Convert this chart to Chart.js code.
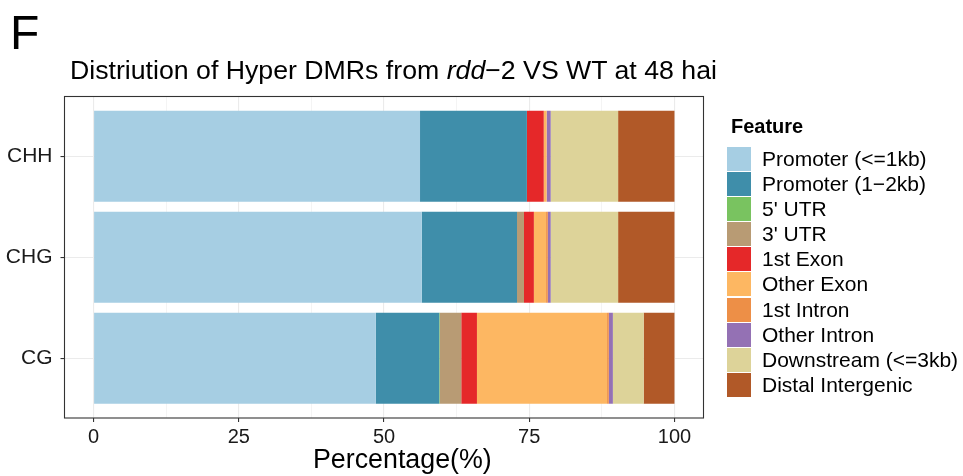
<!DOCTYPE html>
<html>
<head>
<meta charset="utf-8">
<script src="https://cdn.jsdelivr.net/npm/chart.js@4"></script>
<style>
  html, body { margin: 0; padding: 0; background: #fff; }
  #wrap { position: relative; width: 963px; height: 476px; font-family: "Liberation Sans", Arial, sans-serif; color: #000; }
  #chart { position: absolute; left: 0; top: 0; }
  #panel-tag { position: absolute; left: 10px; top: 6px; font-size: 48px; line-height: 54px; }
  #title { position: absolute; left: 70px; top: 55px; font-size: 26.7px; line-height: 30px; white-space: nowrap; }
  #xtitle { position: absolute; left: 313px; top: 443.5px; font-size: 26.8px; line-height: 30px; white-space: nowrap; }
  #legend { position: absolute; left: 727px; top: 114px; }
  #legend .lt { font-weight: bold; font-size: 20px; line-height: 24px; margin-left: 4px; margin-bottom: 9px; }
  #legend .row { position: relative; height: 25.1px; }
  #legend .key { position: absolute; left: 0; top: 0; width: 24px; height: 24px; }
  #legend .lab { position: absolute; left: 35px; top: 0; font-size: 21px; line-height: 24px; white-space: nowrap; }
</style>
</head>
<body>
<div id="wrap">
  <canvas id="chart" width="963" height="476"></canvas>
  <div id="panel-tag">F</div>
  <div id="title">Distriution of Hyper DMRs from <i>rdd</i>−2 VS WT at 48 hai</div>
  <div id="xtitle">Percentage(%)</div>
  <div id="legend"></div>
</div>
<script>
// Context types, top to bottom
const categories = ['CHH', 'CHG', 'CG'];

// Genomic feature classes, in stacking order
const features = [
  'Promoter (<=1kb)', 'Promoter (1−2kb)', "5' UTR", "3' UTR", '1st Exon',
  'Other Exon', '1st Intron', 'Other Intron', 'Downstream (<=3kb)', 'Distal Intergenic'
];
const featureColors = [
  '#A6CEE3', '#3F8EAA', '#79C360', '#B89B74', '#E52829',
  '#FDB762', '#ED8F47', '#9471B4', '#DDD399', '#B15928'
];

// Percentage of DMRs in each feature, per context
const pctCHH = [56.2, 18.4, 0.0, 0.0, 2.9, 0.5, 0.0, 0.7, 11.6, 9.7];
const pctCHG = [56.5, 16.4, 0.0, 1.2, 1.7, 2.1, 0.3, 0.5, 11.6, 9.7];
const pctCG  = [48.6, 10.9, 0.1, 3.7, 2.7, 22.4, 0.3, 0.7, 5.3, 5.3];
const contextValues = [pctCHH, pctCHG, pctCG];

// Axis ticks
const xMajorTicks = [0, 25, 50, 75, 100];
const xMinorTicks = [12.5, 37.5, 62.5, 87.5];

const FONT = '"Liberation Sans", Arial, sans-serif';

const datasets = features.map((name, i) => ({
  label: name,
  backgroundColor: featureColors[i],
  borderWidth: 0,
  data: categories.map((c, j) => ({ x: contextValues[j][i], y: j + 1 }))
}));

// Panel frame drawn around the plotting area
const panelBorder = {
  id: 'panelBorder',
  afterDraw(chart) {
    const { ctx, chartArea: a } = chart;
    ctx.save();
    ctx.strokeStyle = '#333333';
    ctx.lineWidth = 1.1;
    ctx.strokeRect(a.left, a.top, a.right - a.left, a.bottom - a.top);
    ctx.restore();
  }
};

new Chart(document.getElementById('chart'), {
  type: 'bar',
  data: { datasets },
  plugins: [panelBorder],
  options: {
    responsive: false,
    animation: false,
    indexAxis: 'y',
    layout: { padding: { left: 0, right: 259.5, top: 96.5, bottom: 0 } },
    datasets: { bar: { categoryPercentage: 1, barPercentage: 0.9 } },
    plugins: { legend: { display: false }, tooltip: { enabled: false } },
    scales: {
      x: {
        type: 'linear',
        stacked: true,
        min: -5,
        max: 105,
        afterBuildTicks(scale) {
          scale.ticks = xMajorTicks.concat(xMinorTicks).sort((a, b) => a - b).map(v => ({ value: v }));
        },
        afterFit(scale) { scale.height = 476 - 418; },
        border: { display: false },
        grid: {
          color: '#EBEBEB',
          lineWidth: ctx => (xMajorTicks.includes(ctx.tick.value) ? 1.1 : 0.55),
          tickColor: ctx => (xMajorTicks.includes(ctx.tick.value) ? '#333333' : 'rgba(0,0,0,0)'),
          tickWidth: 1.1,
          tickLength: 4,
          drawTicks: true
        },
        ticks: {
          autoSkip: false,
          maxRotation: 0,
          padding: 3,
          color: '#1a1a1a',
          font: { family: FONT, size: 20 },
          callback: v => (xMajorTicks.includes(v) ? String(v) : '')
        }
      },
      y: {
        type: 'linear',
        stacked: true,
        reverse: true,
        offset: false,
        min: 0.41,
        max: 3.59,
        afterBuildTicks(scale) {
          scale.ticks = categories.map((c, j) => ({ value: j + 1 }));
        },
        afterFit(scale) { scale.width = 64.5; },
        border: { display: false },
        grid: {
          offset: false,
          color: '#EBEBEB',
          lineWidth: 1.1,
          tickColor: '#333333',
          tickWidth: 1.1,
          tickLength: 4,
          drawTicks: true
        },
        ticks: {
          autoSkip: false,
          padding: 8,
          color: '#1a1a1a',
          font: { family: FONT, size: 21 },
          callback: v => categories[Math.round(v) - 1] || ''
        }
      }
    }
  }
});

// Legend built from the same feature list
const legend = document.getElementById('legend');
const lt = document.createElement('div');
lt.className = 'lt';
lt.textContent = 'Feature';
legend.appendChild(lt);
features.forEach((name, i) => {
  const row = document.createElement('div');
  row.className = 'row';
  const key = document.createElement('div');
  key.className = 'key';
  key.style.background = featureColors[i];
  const lab = document.createElement('div');
  lab.className = 'lab';
  lab.textContent = name;
  row.appendChild(key);
  row.appendChild(lab);
  legend.appendChild(row);
});
</script>
</body>
</html>
